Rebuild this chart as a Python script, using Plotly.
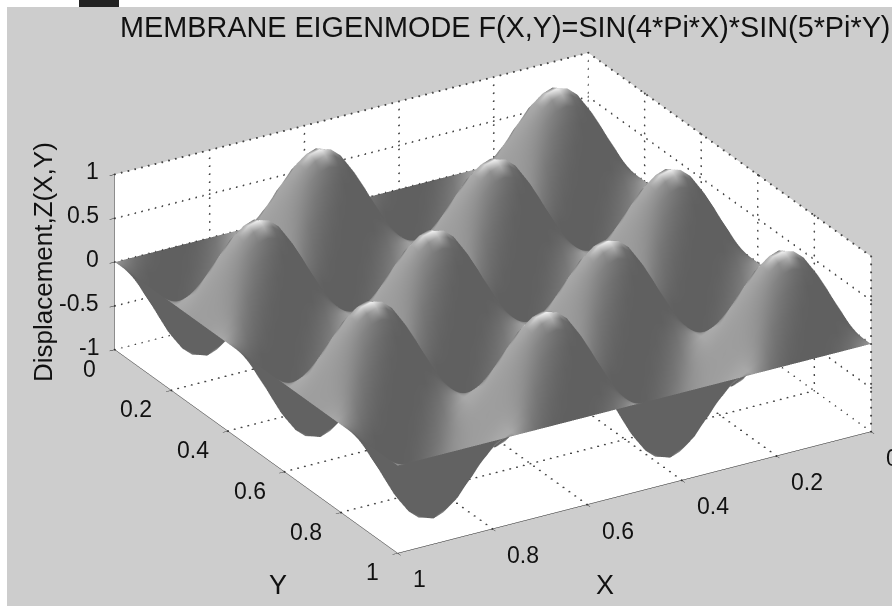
import numpy as np
import plotly.graph_objects as go

x_vals = [0, .021, .042, .063, .083, .104, .125, .146, .167, .188, .208, .229, .25,
          .271, .292, .313, .333, .354, .375, .396, .417, .438, .458, .479, .5,
          .521, .542, .563, .583, .604, .625, .646, .667, .688, .708, .729, .75,
          .771, .792, .813, .833, .854, .875, .896, .917, .938, .958, .979, 1]
y_vals = [0, .017, .033, .05, .067, .083, .1, .117, .133, .15, .167, .183, .2,
          .217, .233, .25, .267, .283, .3, .317, .333, .35, .367, .383, .4,
          .417, .433, .45, .467, .483, .5, .517, .533, .55, .567, .583, .6,
          .617, .633, .65, .667, .683, .7, .717, .733, .75, .767, .783, .8,
          .817, .833, .85, .867, .883, .9, .917, .933, .95, .967, .983, 1]

h1 = [0, .07, .13, .18, .23, .25, .26, .25, .23, .18, .13, .07]
h2 = [0, .13, .25, .35, .43, .48, .5, .48, .43, .35, .25, .13]
h3 = [0, .18, .35, .5, .61, .68, .71, .68, .61, .5, .35, .18]
h4 = [0, .23, .43, .61, .75, .84, .87, .84, .75, .61, .43, .23]
h5 = [0, .25, .48, .68, .84, .93, .97, .93, .84, .68, .48, .25]
h6 = [0, .26, .5, .71, .87, .97, 1, .97, .87, .71, .5, .26]
m1 = [0, -.07, -.13, -.18, -.23, -.25, -.26, -.25, -.23, -.18, -.13, -.07]
m2 = [0, -.13, -.25, -.35, -.43, -.48, -.5, -.48, -.43, -.35, -.25, -.13]
m3 = [0, -.18, -.35, -.5, -.61, -.68, -.71, -.68, -.61, -.5, -.35, -.18]
m4 = [0, -.23, -.43, -.61, -.75, -.84, -.87, -.84, -.75, -.61, -.43, -.23]
m5 = [0, -.25, -.48, -.68, -.84, -.93, -.97, -.93, -.84, -.68, -.48, -.25]
m6 = [0, -.26, -.5, -.71, -.87, -.97, -1, -.97, -.87, -.71, -.5, -.26]
zero = [0] * 49

def up(h, m):
    return h + m + h + m + [0]

rise = [up(h1, m1), up(h2, m2), up(h3, m3), up(h4, m4), up(h5, m5)]
fall = [up(m1, h1), up(m2, h2), up(m3, h3), up(m4, h4), up(m5, h5)]
lobe_up = rise + [up(h6, m6)] + rise[::-1]
lobe_dn = fall + [up(m6, h6)] + fall[::-1]
z_rows = ([zero] + lobe_up + [zero] + lobe_dn) * 2 + [zero] + lobe_up + [zero]

title_text = "MEMBRANE EIGENMODE F(X,Y)=SIN(4*Pi*X)*SIN(5*Pi*Y)"
x_ticks = [0, .2, .4, .6, .8, 1]
y_ticks = [0, .2, .4, .6, .8, 1]
z_ticks = [-1, -.5, 0, .5, 1]
FONT = "Liberation Sans"
D = 1.5
A = 1.82

# Grey shade per vertex, derived from the slope of the surface so the picture's
# side-lit look is reproduced: left-facing slopes pale, right-facing slopes dark.
zs = np.array(z_rows, dtype=float)
dzdy, dzdx = np.gradient(zs, np.array(y_vals), np.array(x_vals))
nx, ny, nz = -.176 * dzdx, -.176 * dzdy, np.ones_like(zs)
nn = np.sqrt(nx ** 2 + ny ** 2 + nz ** 2)
nx, ny, nz = nx / nn, ny / nn, nz / nn
facing = nx * .463 + ny * .775 + nz * .43
lit = np.clip(nx * .52 - ny * .31 + nz * .8, 0, 1)
shade = 96 + 76 * lit + 85 * np.clip((zs - .93) / .07, 0, 1)
shade[facing < 0] = 98
shade_rows = shade.tolist()

fig = go.Figure(go.Surface(
    x=x_vals, y=y_vals, z=z_rows, surfacecolor=shade_rows, showscale=False, cmin=0, cmax=255,
    colorscale=[[0, "#000000"], [1, "#ffffff"]],
    lighting=dict(ambient=1, diffuse=0, specular=0, roughness=1, fresnel=0),
))

# dotted grid on the back walls and floor: small dots stepped along each tick line
gx, gy, gz = [], [], []
def dots(a, b, n):
    for i in range(n + 1):
        t = i / n
        gx.append(a[0] + (b[0] - a[0]) * t)
        gy.append(a[1] + (b[1] - a[1]) * t)
        gz.append(a[2] + (b[2] - a[2]) * t)
for v in x_ticks:
    if v < 1:
        dots((v, 0, -1), (v, 1, -1), 48)
        dots((v, 0, -1), (v, 0, 1), 22)
for v in y_ticks:
    if v < 1:
        dots((0, v, -1), (1, v, -1), 70)
    dots((0, v, -1), (0, v, 1), 22)
for v in z_ticks:
    dots((0, 0, v), (1, 0, v), 70)
    dots((0, 0, v), (0, 1, v), 48)
fig.add_trace(go.Scatter3d(x=gx, y=gy, z=gz, mode="markers", hoverinfo="skip",
                           marker=dict(color="#444444", size=1.2, line=dict(width=0))))

def axis(vals, rng):
    return dict(range=rng, tickvals=vals, showticklabels=False, title=dict(text=""),
                showbackground=True, backgroundcolor="white", showgrid=False, showline=True,
                linecolor="#222", ticks="outside", ticklen=6, tickcolor="#222",
                zeroline=False, showspikes=False)

def label(x, y, z, v, anchor, dx, dy):
    return dict(x=x, y=y, z=z, text=f"{v:g}", showarrow=False, xanchor=anchor, yanchor="middle",
                xshift=dx, yshift=dy, font=dict(family=FONT, size=23, color="#111"))

scene_labels = ([label(v, 1, -1, v, "left", 13, -26) for v in x_ticks]
                + [label(1, v, -1, v, "right", -17, -19) for v in y_ticks]
                + [label(1, 0, v, v, "right", -14, 3) for v in z_ticks])

def text(s, px, py, size, angle=0):
    return dict(text=s, x=px / 892, y=1 - py / 606, xref="paper", yref="paper", showarrow=False,
                xanchor="center", yanchor="middle", textangle=angle,
                font=dict(family=FONT, size=size, color="#111"))

cx, cy = .133, -.0795
fig.update_layout(
    width=892, height=606, margin=dict(l=0, r=0, t=0, b=0), paper_bgcolor="#cdcdcd",
    showlegend=False,
    scene=dict(
        domain=dict(x=[0, 1], y=[0, 1]),
        xaxis=axis(x_ticks, [0, 1]), yaxis=axis(y_ticks, [0, 1]), zaxis=axis(z_ticks, [-1, 1]),
        aspectmode="manual", aspectratio=dict(x=A, y=A, z=.352 * A),
        annotations=scene_labels,
        camera=dict(projection=dict(type="orthographic"),
                    center=dict(x=cx, y=cy, z=0),
                    eye=dict(x=.463 * D + cx, y=.775 * D + cy, z=.43 * D)),
    ),
    shapes=[
        dict(type="rect", xref="paper", yref="paper", x0=0, x1=1, y0=1 - 7 / 606, y1=1, fillcolor="white", line_width=0),
        dict(type="rect", xref="paper", yref="paper", x0=0, x1=7 / 892, y0=0, y1=1, fillcolor="white", line_width=0),
        dict(type="rect", xref="paper", yref="paper", x0=79 / 892, x1=119 / 892, y0=1 - 7 / 606, y1=1, fillcolor="#222", line_width=0),
    ],
    annotations=[
        text(title_text, 505, 27, 28.8),
        text("Displacement,Z(X,Y)", 43, 262, 26, -90),
        text("X", 605, 585, 27),
        text("Y", 278, 585, 27),
    ],
)
fig.write_html("out.html", config=dict(displayModeBar=False), post_script="document.body.style.margin='0';")
